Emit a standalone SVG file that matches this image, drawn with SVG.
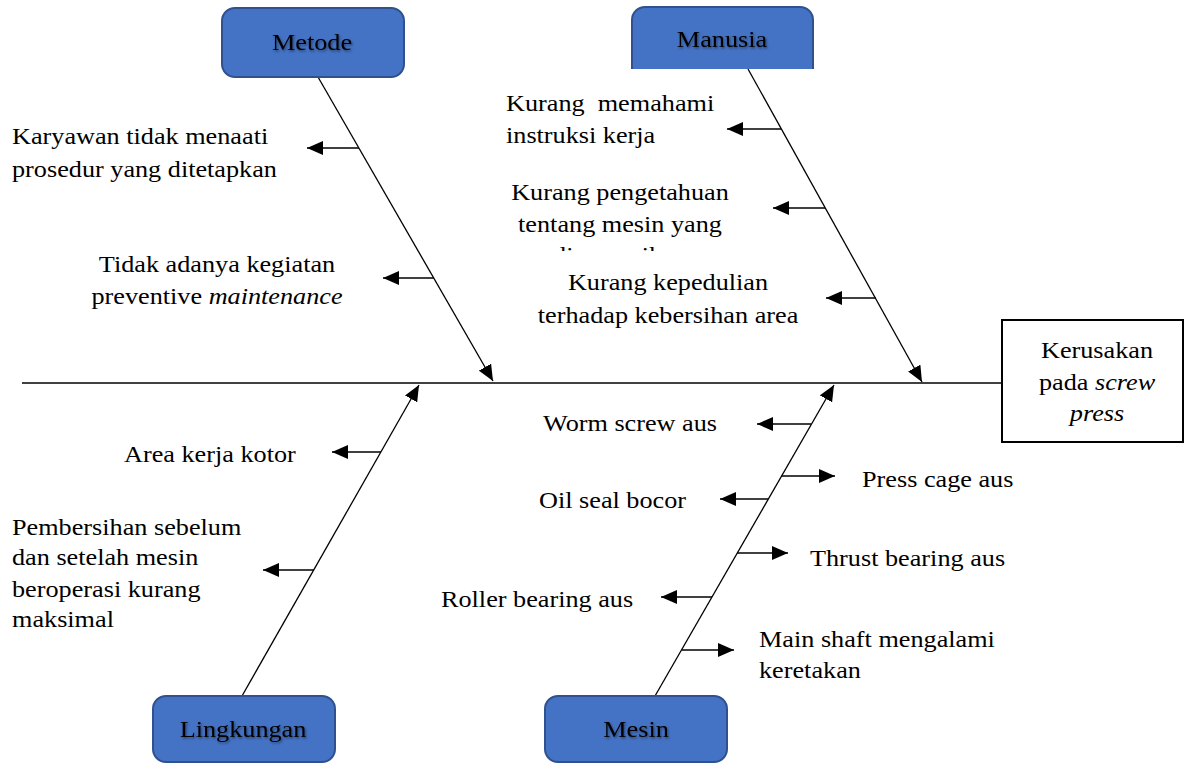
<svg xmlns="http://www.w3.org/2000/svg" width="1195" height="764" viewBox="0 0 1195 764">
<style>
.t{font-family:"Liberation Serif","Times New Roman",serif;font-size:23px;fill:#000}
.c{text-anchor:middle}
.box{fill:#4472C4;stroke:#2F528F;stroke-width:2}
.ln{stroke:#000;stroke-width:1.3;fill:none}
.bl{stroke:#000;stroke-width:1.3;fill:none;marker-end:url(#ah)}
</style>
<defs>
<marker id="ah" markerUnits="userSpaceOnUse" markerWidth="18" markerHeight="14" refX="16" refY="7" orient="auto">
<path d="M0,0 L16,7 L0,14 Z" fill="#000"/>
</marker>
<filter id="sh" x="-10%" y="-10%" width="130%" height="130%">
<feDropShadow dx="1" dy="1.5" stdDeviation="1" flood-color="#000" flood-opacity="0.45"/>
</filter>
<clipPath id="cm"><rect x="0" y="0" width="1195" height="69"/></clipPath>
<clipPath id="ck"><rect x="0" y="0" width="1195" height="251"/></clipPath>
</defs>
<rect width="1195" height="764" fill="#fff"/>

<g id="connectors">
<line class="ln" x1="22" y1="383" x2="1002" y2="383"/>
<line class="bl" x1="318" y1="77" x2="493" y2="381"/>
<line class="bl" x1="748" y1="69" x2="922" y2="382"/>
<line class="bl" x1="242" y1="696" x2="419" y2="385"/>
<line class="bl" x1="655" y1="696" x2="834" y2="385"/>
<line class="bl" x1="359" y1="148" x2="307" y2="148"/>
<line class="bl" x1="434" y1="278" x2="383" y2="278"/>
<line class="bl" x1="781" y1="129" x2="727" y2="129"/>
<line class="bl" x1="825" y1="208" x2="773" y2="208"/>
<line class="bl" x1="876" y1="298" x2="826" y2="298"/>
<line class="bl" x1="381" y1="452" x2="332" y2="452"/>
<line class="bl" x1="314" y1="570" x2="263" y2="570"/>
<line class="bl" x1="811" y1="424" x2="757" y2="424"/>
<line class="bl" x1="782" y1="476" x2="835" y2="476"/>
<line class="bl" x1="768" y1="499" x2="720" y2="499"/>
<line class="bl" x1="737" y1="553" x2="788" y2="553"/>
<line class="bl" x1="712" y1="597" x2="661" y2="597"/>
<line class="bl" x1="682" y1="650" x2="734" y2="650"/>
</g>

<g id="metode">
<rect class="box" x="222" y="8" width="182" height="69" rx="13"/>
<text class="t c" filter="url(#sh)" transform="translate(312,50) scale(1.14,1)">Metode</text>
</g>
<g id="manusia">
<rect class="box" x="632" y="7" width="181" height="75" rx="13" clip-path="url(#cm)"/>
<text class="t c" filter="url(#sh)" transform="translate(722,47) scale(1.14,1)">Manusia</text>
</g>
<g id="lingkungan">
<rect class="box" x="153" y="696" width="182" height="66" rx="13"/>
<text class="t c" filter="url(#sh)" transform="translate(243,737) scale(1.14,1)">Lingkungan</text>
</g>
<g id="mesin">
<rect class="box" x="545" y="696" width="182" height="66" rx="13"/>
<text class="t c" filter="url(#sh)" transform="translate(636,737) scale(1.14,1)">Mesin</text>
</g>
<g id="effect">
<rect x="1002" y="320" width="181" height="122" fill="#fff" stroke="#000" stroke-width="2"/>
<text class="t c" transform="translate(1097,358) scale(1.14,1)">Kerusakan</text>
<text class="t c" transform="translate(1097,390) scale(1.14,1)">pada <tspan font-style="italic">screw</tspan></text>
<text class="t c" font-style="italic" transform="translate(1097,421) scale(1.14,1)">press</text>
</g>

<g id="cause-metode-1">
<text class="t" transform="translate(12,144) scale(1.14,1)">Karyawan tidak menaati</text>
<text class="t" transform="translate(12,177) scale(1.14,1)">prosedur yang ditetapkan</text>
</g>
<g id="cause-metode-2">
<text class="t c" transform="translate(217,272) scale(1.14,1)">Tidak adanya kegiatan</text>
<text class="t c" transform="translate(217,304) scale(1.14,1)">preventive <tspan font-style="italic">maintenance</tspan></text>
</g>
<g id="cause-manusia-1">
<text class="t" xml:space="preserve" transform="translate(506,111) scale(1.14,1)">Kurang  memahami</text>
<text class="t" transform="translate(506,143) scale(1.14,1)">instruksi kerja</text>
</g>
<g id="cause-manusia-2" clip-path="url(#ck)">
<text class="t c" transform="translate(620,200) scale(1.14,1)">Kurang pengetahuan</text>
<text class="t c" transform="translate(620,232) scale(1.14,1)">tentang mesin yang</text>
<text class="t c" transform="translate(620,263) scale(1.14,1)">dioperasikan</text>
</g>
<g id="cause-manusia-3">
<text class="t c" transform="translate(668,290) scale(1.14,1)">Kurang kepedulian</text>
<text class="t c" transform="translate(668,323) scale(1.14,1)">terhadap kebersihan area</text>
</g>
<g id="cause-lingkungan-1">
<text class="t" transform="translate(124,462) scale(1.14,1)">Area kerja kotor</text>
</g>
<g id="cause-lingkungan-2">
<text class="t" transform="translate(12,535) scale(1.14,1)">Pembersihan sebelum</text>
<text class="t" transform="translate(12,565) scale(1.14,1)">dan setelah mesin</text>
<text class="t" transform="translate(12,597) scale(1.14,1)">beroperasi kurang</text>
<text class="t" transform="translate(12,627) scale(1.14,1)">maksimal</text>
</g>
<g id="cause-mesin-1"><text class="t" transform="translate(543,431) scale(1.14,1)">Worm screw aus</text></g>
<g id="cause-mesin-2"><text class="t" transform="translate(862,487) scale(1.14,1)">Press cage aus</text></g>
<g id="cause-mesin-3"><text class="t" transform="translate(539,508) scale(1.14,1)">Oil seal bocor</text></g>
<g id="cause-mesin-4"><text class="t" transform="translate(810,566) scale(1.14,1)">Thrust bearing aus</text></g>
<g id="cause-mesin-5"><text class="t" transform="translate(441,607) scale(1.14,1)">Roller bearing aus</text></g>
<g id="cause-mesin-6">
<text class="t" transform="translate(759,647) scale(1.14,1)">Main shaft mengalami</text>
<text class="t" transform="translate(759,678) scale(1.14,1)">keretakan</text>
</g>
</svg>
